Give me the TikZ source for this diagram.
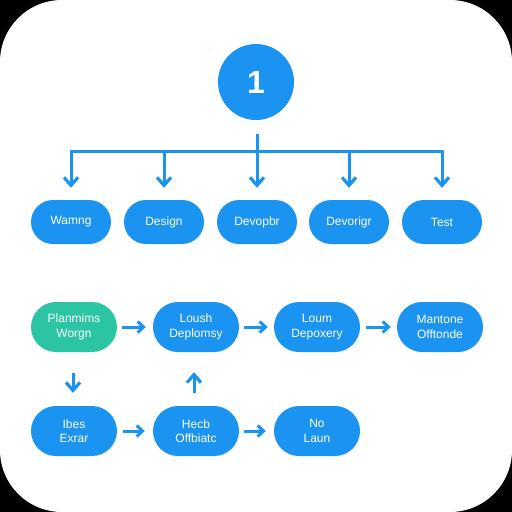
\documentclass[tikz,border=0pt]{standalone}
\usepackage{fontspec}
\setmainfont{Liberation Sans}
\usetikzlibrary{arrows.meta}
\definecolor{bblue}{HTML}{1B93F0}
\definecolor{bgreen}{HTML}{2CC5A3}
\tikzset{
  pill/.style={rectangle, fill=bblue, text=white, align=center,
    minimum width=80pt, minimum height=44pt, rounded corners=22pt,
    inner sep=0pt, font=\fontsize{12}{14.5}\selectfont},
  pillb/.style={pill, minimum width=86pt, minimum height=50pt, rounded corners=25pt},
  treeline/.style={draw=bblue, line width=3pt},
  treearr/.style={treeline, -{Straight Barb[length=8pt,width=14pt,line width=3.2pt]}},
  flowarr/.style={draw=bblue, line width=3pt, -{Straight Barb[length=6pt,width=11pt,line width=3pt]}},
  vflowarr/.style={draw=bblue, line width=3pt, -{Straight Barb[length=8pt,width=14pt,line width=3.2pt]}}
}
\begin{document}
\begin{tikzpicture}[x=1pt,y=-1pt]
  \fill[black] (0,0) rectangle (512,512);
  \fill[white, rounded corners=62pt] (0,0) rectangle (512,512);
  \useasboundingbox (0,0) rectangle (512,512);

  \node[circle, fill=bblue, minimum size=76pt, inner sep=0pt, text=white,
        font=\fontsize{32}{32}\bfseries\selectfont] (c) at (256,82) {1};

  \node[pill] (b1) at (71,222) {Wamng};
  \node[pill] (b2) at (164,222) {Design};
  \node[pill] (b3) at (257,222) {Devopbr};
  \node[pill] (b4) at (349,222) {Devorigr};
  \node[pill] (b5) at (442,222) {Test};

  \coordinate (top) at (257,134);
  \coordinate (bar) at (257,151);
  \draw[treeline] ([xshift=-1.5pt]b1.north |- bar) -- ([xshift=1.5pt]b5.north |- bar);
  \draw[treearr, shorten >=12pt] (top) -- (b3.north);
  \foreach \b in {b1,b2,b4,b5}
    \draw[treearr, shorten >=12pt] (\b.north |- bar) -- (\b.north);

  \node[pillb, fill=bgreen] (p1) at (74,327) {Planmims\\Worgn};
  \node[pillb] (p2) at (196,327) {Loush\\Deplomsy};
  \node[pillb] (p3) at (317,327) {Loum\\Depoxery};
  \node[pillb] (p4) at (440,327) {Mantone\\Offtonde};

  \node[pillb] (q1) at (74,431) {Ibes\\Exrar};
  \node[pillb] (q2) at (196,431) {Hecb\\Offbiatc};
  \node[pillb] (q3) at (317,431) {No\\Laun};

  \draw[flowarr, shorten <=5pt, shorten >=7pt] (p1) -- (p2);
  \draw[flowarr, shorten <=5pt, shorten >=6pt] (p2) -- (p3);
  \draw[flowarr, shorten <=6pt, shorten >=6pt] (p3) -- (p4);
  \draw[flowarr, shorten <=6pt, shorten >=8pt] (q1) -- (q2);
  \draw[flowarr, shorten <=5pt, shorten >=8pt] (q2) -- (q3);
  \draw[vflowarr, shorten <=21pt, shorten >=13pt] (p1.south -| 73,0) -- (q1.north -| 73,0);
  \draw[vflowarr, shorten <=13pt, shorten >=20pt] (q2.north -| 194,0) -- (p2.south -| 194,0);
\end{tikzpicture}
\end{document}
